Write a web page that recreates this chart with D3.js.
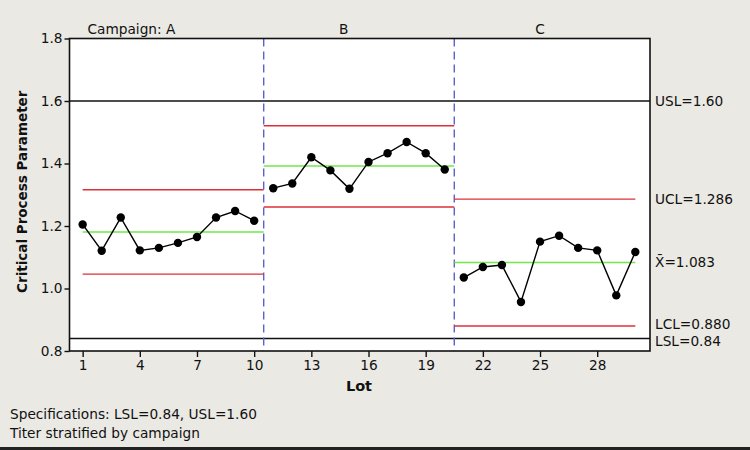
<!DOCTYPE html>
<meta charset="utf-8">
<style>
body { margin: 0; background: #ebe9e4; }
svg { display: block; font-family: "DejaVu Sans", Verdana, sans-serif; }
</style>
<body>
<svg width="750" height="450"></svg>
<script src="https://d3js.org/d3.v7.min.js"></script>
<script>

// lot values per campaign
var lots = d3.range(1, 31);
var values = [
  1.205, 1.121, 1.227, 1.122, 1.130, 1.146, 1.165, 1.227, 1.248, 1.217,
  1.321, 1.336, 1.420, 1.378, 1.319, 1.405, 1.433, 1.469, 1.433, 1.381,
  1.035, 1.069, 1.075, 0.957, 1.150, 1.169, 1.130, 1.122, 0.978, 1.117
];
var campaigns = ["A", "B", "C"];
var stageStart = [1, 10.5, 20.5];
var stageEnd = [10.5, 20.5, 30];
var centerLine = [1.181, 1.392, 1.083];
var ucl = [1.316, 1.521, 1.286];
var lcl = [1.046, 1.261, 0.880];
var usl = 1.60, lsl = 0.84;
var yTicks = [0.8, 1.0, 1.2, 1.4, 1.6, 1.8];
var xTicks = [1, 4, 7, 10, 13, 16, 19, 22, 25, 28];

var svg = d3.select("svg"),
    margin = {top: 38.5, right: 100, bottom: 99, left: 69.5},
    width = 750 - margin.left - margin.right,
    height = 450 - margin.top - margin.bottom,
    fs = "13.7px";

var x = d3.scaleLinear().domain([0.31, 30.77]).range([margin.left, margin.left + width]);
var y = d3.scaleLinear().domain([0.8, 1.8]).range([margin.top + height, margin.top]);

svg.append("rect")
  .attr("x", margin.left).attr("y", margin.top)
  .attr("width", width).attr("height", height)
  .attr("fill", "#fff");

// spec limits
[usl, lsl].forEach(function(v) {
  svg.append("line")
    .attr("x1", margin.left).attr("x2", margin.left + width)
    .attr("y1", y(v)).attr("y2", y(v))
    .attr("stroke", "#111").attr("stroke-width", 1.3);
});

// stage dividers
[10.5, 20.5].forEach(function(b) {
  svg.append("line")
    .attr("x1", x(b)).attr("x2", x(b))
    .attr("y1", margin.top).attr("y2", margin.top + height)
    .attr("stroke", "#5b62c9").attr("stroke-width", 1.4)
    .attr("stroke-dasharray", "8,5");
});

// control limits and center lines per stage
campaigns.forEach(function(c, i) {
  [ucl[i], lcl[i]].forEach(function(v) {
    svg.append("line")
      .attr("x1", x(stageStart[i])).attr("x2", x(stageEnd[i]))
      .attr("y1", y(v)).attr("y2", y(v))
      .attr("stroke", "#dc2f38").attr("stroke-width", 1.4);
  });
  svg.append("line")
    .attr("x1", x(stageStart[i])).attr("x2", x(stageEnd[i]))
    .attr("y1", y(centerLine[i])).attr("y2", y(centerLine[i]))
    .attr("stroke", "#6fe84a").attr("stroke-width", 1.5);
});

// data, one path per campaign
var line = d3.line().x(function(d) { return x(d[0]); }).y(function(d) { return y(d[1]); });
campaigns.forEach(function(c, i) {
  var pts = lots.slice(i * 10, i * 10 + 10).map(function(l, j) { return [l, values[i * 10 + j]]; });
  svg.append("path").datum(pts)
    .attr("d", line).attr("fill", "none")
    .attr("stroke", "#000").attr("stroke-width", 1.4);
  svg.selectAll(null).data(pts).enter().append("circle")
    .attr("cx", function(d) { return x(d[0]); })
    .attr("cy", function(d) { return y(d[1]); })
    .attr("r", 4.2).attr("fill", "#000");
});

// frame
svg.append("rect")
  .attr("x", margin.left).attr("y", margin.top)
  .attr("width", width).attr("height", height)
  .attr("fill", "none").attr("stroke", "#111").attr("stroke-width", 1.6);

// axes
var yAxis = d3.axisLeft(y).tickValues(yTicks).tickFormat(d3.format(".1f")).tickSize(5).tickPadding(2);
var xAxis = d3.axisBottom(x).tickValues(xTicks).tickSize(6).tickPadding(3);
var gy = svg.append("g").attr("transform", "translate(" + margin.left + ",0)").call(yAxis);
var gx = svg.append("g").attr("transform", "translate(0," + (margin.top + height) + ")").call(xAxis);
[gx, gy].forEach(function(g) {
  g.select(".domain").remove();
  g.selectAll("line").attr("stroke", "#111").attr("stroke-width", 1.4);
  g.selectAll("text").attr("fill", "#111").style("font-size", fs).style("font-family", "DejaVu Sans");
});

// campaign labels
var labelLot = [5.55, 14.7, 25];
svg.append("text").attr("x", x(labelLot[0])).attr("y", 34).attr("text-anchor", "end")
  .style("font-size", fs).attr("fill", "#111").text("Campaign: A").attr("dx", 6);
campaigns.slice(1).forEach(function(c, i) {
  svg.append("text").attr("x", x(labelLot[i + 1])).attr("y", 34).attr("text-anchor", "middle")
    .style("font-size", fs).attr("fill", "#111").text(c);
});

// right-side labels
var rightLabels = [
  {v: usl, t: "USL=1.60", dy: 0},
  {v: ucl[2], t: "UCL=1.286", dy: 0},
  {v: centerLine[2], t: "X\u0304=1.083", dy: 0},
  {v: lcl[2], t: "LCL=0.880", dy: -2},
  {v: lsl, t: "LSL=0.84", dy: 3}
];
svg.selectAll(null).data(rightLabels).enter().append("text")
  .attr("x", margin.left + width + 5)
  .attr("y", function(d) { return y(d.v) + d.dy; })
  .attr("dy", "0.36em")
  .style("font-size", fs).attr("fill", "#111")
  .text(function(d) { return d.t; });

// axis titles
svg.append("text").attr("x", x(15.5)).attr("y", 391).attr("text-anchor", "middle")
  .style("font-size", "14.5px").style("font-weight", "bold").attr("fill", "#111").text("Lot");
svg.append("text").attr("transform", "translate(27," + (margin.top + height / 2 - 3) + ") rotate(-90)")
  .attr("text-anchor", "middle")
  .style("font-size", "13.5px").style("font-weight", "bold").attr("fill", "#111")
  .text("Critical Process Parameter");

// footnotes
svg.append("text").attr("x", 10).attr("y", 419).style("font-size", fs).attr("fill", "#111")
  .text("Specifications: LSL=0.84, USL=1.60");
svg.append("text").attr("x", 10).attr("y", 438).style("font-size", fs).attr("fill", "#111")
  .text("Titer stratified by campaign");

svg.append("rect").attr("x", 0).attr("y", 447).attr("width", 750).attr("height", 3).attr("fill", "#222");

</script>
</body>
